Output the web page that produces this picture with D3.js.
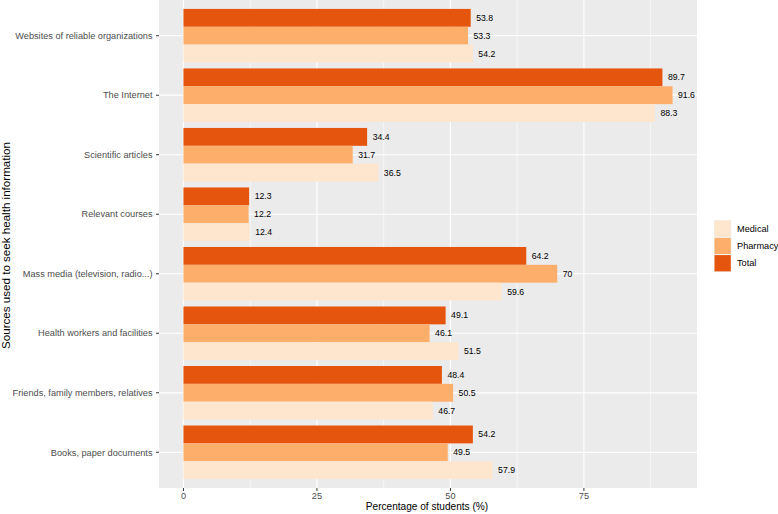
<!DOCTYPE html>
<html><head><meta charset="utf-8">
<script src="https://cdn.jsdelivr.net/npm/d3@7"></script>
<style>body{margin:0;background:#fff}svg{display:block;font-family:"Liberation Sans",Arial,sans-serif}</style>
</head><body>
<svg id="c" width="778" height="514"></svg>
<script>
const categories = ["Websites of reliable organizations","The Internet","Scientific articles","Relevant courses","Mass media (television, radio...)","Health workers and facilities","Friends, family members, relatives","Books, paper documents"];
const seriesNames = ["Total","Pharmacy","Medical"];
const totalValues = [53.8, 89.7, 34.4, 12.3, 64.2, 49.1, 48.4, 54.2];
const pharmacyValues = [53.3, 91.6, 31.7, 12.2, 70, 46.1, 50.5, 49.5];
const medicalValues = [54.2, 88.3, 36.5, 12.4, 59.6, 51.5, 46.7, 57.9];
const xTicks = [0, 25, 50, 75];
const xMinor = [12.5, 37.5, 62.5, 87.5];
const legendOrder = ["Medical","Pharmacy","Total"];
const colors = {Medical:"#FEE6CE", Pharmacy:"#FDAE6B", Total:"#E6550D"};

const series = {Total: totalValues, Pharmacy: pharmacyValues, Medical: medicalValues};
const svg = d3.select("#c");
const P = {left:159, right:697, top:0, bottom:488};

const maxV = d3.max([...totalValues, ...pharmacyValues, ...medicalValues]);
const pad = maxV*0.05;
const x = d3.scaleLinear().domain([-pad, maxV+pad]).range([P.left, P.right]);
const yc = d3.scaleLinear().domain([-0.6, categories.length-1+0.6]).range([P.top, P.bottom]);
const inner = d3.scaleBand().domain(seriesNames).range([-0.45, 0.45]);

const g = svg.append("g");
g.append("rect").attr("x",P.left).attr("y",P.top).attr("width",P.right-P.left).attr("height",P.bottom-P.top).attr("fill","#EBEBEB");
g.selectAll(".mn").data(xMinor).join("line").attr("x1",d=>x(d)).attr("x2",d=>x(d)).attr("y1",P.top).attr("y2",P.bottom).attr("stroke","#fff").attr("stroke-width",0.6);
g.selectAll(".mj").data(xTicks).join("line").attr("x1",d=>x(d)).attr("x2",d=>x(d)).attr("y1",P.top).attr("y2",P.bottom).attr("stroke","#fff").attr("stroke-width",1.2);
g.selectAll(".yg").data(categories).join("line").attr("x1",P.left).attr("x2",P.right).attr("y1",(d,i)=>yc(i)).attr("y2",(d,i)=>yc(i)).attr("stroke","#fff").attr("stroke-width",1.2);

const bars = [];
categories.forEach((c,i)=>seriesNames.forEach(s=>bars.push({c,i,s,v:series[s][i]})));
const bw = yc(inner.bandwidth()) - yc(0);
g.selectAll(".bar").data(bars).join("rect")
  .attr("x",x(0)).attr("width",d=>x(d.v)-x(0))
  .attr("y",d=>yc(d.i+inner(d.s))).attr("height",bw)
  .attr("fill",d=>colors[d.s]);
g.selectAll(".lbl").data(bars).join("text")
  .attr("x",d=>x(d.v)+5.5).attr("y",d=>yc(d.i+inner(d.s))+bw/2).attr("dy","0.35em")
  .attr("font-size",8.7).attr("fill","#000").text(d=>d.v);

// axes
g.selectAll(".xt").data(xTicks).join("line").attr("x1",d=>x(d)).attr("x2",d=>x(d)).attr("y1",P.bottom).attr("y2",P.bottom+3).attr("stroke","#333").attr("stroke-width",1);
g.selectAll(".xl").data(xTicks).join("text").attr("x",d=>x(d)).attr("y",498.5).attr("text-anchor","middle").attr("font-size",9.2).attr("fill","#4D4D4D").text(d=>d);
g.selectAll(".yt").data(categories).join("line").attr("x1",P.left-3).attr("x2",P.left).attr("y1",(d,i)=>yc(i)).attr("y2",(d,i)=>yc(i)).attr("stroke","#333").attr("stroke-width",1);
g.selectAll(".yl").data(categories).join("text").attr("x",P.left-6.5).attr("y",(d,i)=>yc(i)).attr("dy","0.35em").attr("text-anchor","end").attr("font-size",9.2).attr("fill","#4D4D4D").text(d=>d);

svg.append("text").attr("x",(P.left+P.right)/2 - 1).attr("y",509.5).attr("text-anchor","middle").attr("font-size",10.1).attr("fill","#000").text("Percentage of students (%)");
svg.append("text").attr("transform",`translate(5.5,245.5) rotate(-90)`).attr("dy","0.35em").attr("text-anchor","middle").attr("font-size",11.6).attr("fill","#000").text("Sources used to seek health information");

// legend
const lg = svg.append("g").attr("transform","translate(714,220)");
legendOrder.forEach((s,i)=>{
  lg.append("rect").attr("x",0).attr("y",i*17.3).attr("width",17.3).attr("height",17.3).attr("fill","#F2F2F2");
  lg.append("rect").attr("x",0.5).attr("y",i*17.3+0.5).attr("width",16.3).attr("height",16.3).attr("fill",colors[s]);
  lg.append("text").attr("x",23).attr("y",i*17.3+8.65).attr("dy","0.35em").attr("font-size",9.2).attr("fill","#000").text(s);
});
</script>
</body></html>
